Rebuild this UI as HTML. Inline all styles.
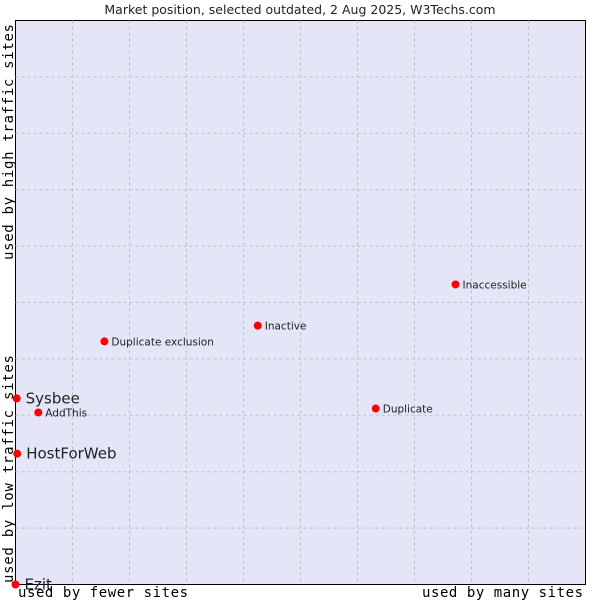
<!DOCTYPE html>
<html><head><meta charset="utf-8"><style>
body{margin:0;background:#fff;}
svg text{font-family:"DejaVu Sans","Liberation Sans",sans-serif;}
</style></head><body>
<svg id="chart" width="600" height="600" xmlns="http://www.w3.org/2000/svg">
<text x="300" y="14" text-anchor="middle" font-size="12.5" fill="#222">Market position, selected outdated, 2 Aug 2025, W3Techs.com</text>
<rect x="15.5" y="20.5" width="570" height="564" fill="#e4e6f8" stroke="#000" stroke-width="1"/>
<g id="grid"></g>
<g id="points"></g>
<text x="18" y="597" font-size="14" textLength="170" lengthAdjust="spacing" fill="#000" style="font-family:'DejaVu Sans Mono','Liberation Mono',monospace">used by fewer sites</text>
<text x="422" y="597" font-size="14" textLength="161" lengthAdjust="spacing" fill="#000" style="font-family:'DejaVu Sans Mono','Liberation Mono',monospace">used by many sites</text>
<text transform="translate(13,583) rotate(-90)" font-size="14" textLength="228" lengthAdjust="spacing" fill="#000" style="font-family:'DejaVu Sans Mono','Liberation Mono',monospace">used by low traffic sites</text>
<text transform="translate(13,260) rotate(-90)" font-size="14" textLength="236" lengthAdjust="spacing" fill="#000" style="font-family:'DejaVu Sans Mono','Liberation Mono',monospace">used by high traffic sites</text>
</svg>
<script>
const names = ["Sysbee","AddThis","HostForWeb","Ezit","Duplicate exclusion","Inactive","Duplicate","Inaccessible"];
const xValues = [0.2,4,0.3,0,15.6,42.5,63.2,77.2];
const yValues = [33,30.5,23.2,0,43.1,45.9,31.2,53.2];
const bigLabel = [true,false,true,true,false,false,false,false];
const L=15.5,R=585.5,T=20.5,B=584.5;
const sx=v=>L+v/100*(R-L), sy=v=>B-v/100*(B-T);
const NS="http://www.w3.org/2000/svg";
const grid=document.getElementById('grid'), pts=document.getElementById('points');
for(let i=1;i<10;i++){
  const v=document.createElementNS(NS,'line');
  
  
  v.setAttribute('x1',sx(i*10));v.setAttribute('x2',sx(i*10));v.setAttribute('y1',T);v.setAttribute('y2',B);
  v.setAttribute('stroke','#c0c0c0');v.setAttribute('stroke-dasharray','3,3');grid.appendChild(v);
  const h=document.createElementNS(NS,'line');
  
  
  h.setAttribute('y1',sy(i*10));h.setAttribute('y2',sy(i*10));h.setAttribute('x1',L);h.setAttribute('x2',R);
  h.setAttribute('stroke','#c0c0c0');h.setAttribute('stroke-dasharray','3,3');grid.appendChild(h);
}
names.forEach((n,i)=>{
  const x=sx(xValues[i]),y=sy(yValues[i]);
  const c=document.createElementNS(NS,'circle');
  
  
  c.setAttribute('cx',x);c.setAttribute('cy',y);c.setAttribute('r',4);c.setAttribute('fill','#f00');
  pts.appendChild(c);
  const t=document.createElementNS(NS,'text');
  
  
  t.setAttribute('x',x+(bigLabel[i]?9:7));t.setAttribute('y',y+(bigLabel[i]?5:4));
  t.setAttribute('font-size',bigLabel[i]?15:10.5);t.setAttribute('fill','#222');
  t.textContent=n;pts.appendChild(t);
});
</script>
</body></html>
